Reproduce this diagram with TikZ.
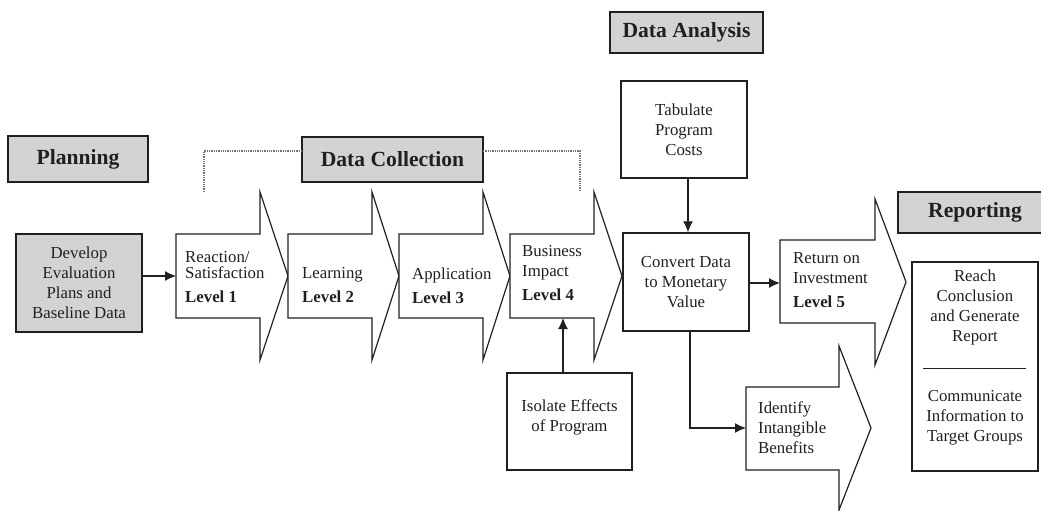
\documentclass[tikz,border=0pt]{standalone}
\usepackage{fontspec}
\setmainfont{Liberation Serif}
\usetikzlibrary{arrows.meta}
\definecolor{headgray}{RGB}{211,211,211}
\definecolor{ink}{RGB}{35,31,32}
\tikzset{box/.style={draw=ink,line width=1.4pt,align=center,inner sep=0pt,text=ink,
  font=\fontsize{16.8}{20}\selectfont},
 headbox/.style={box,fill=headgray,font=\fontsize{21.6}{26}\selectfont\bfseries},
 stage/.style={draw=ink,line width=1.2pt,fill=white},
 stagetext/.style={anchor=west,align=left,inner sep=0pt,text=ink,
  font=\fontsize{16.8}{20}\selectfont},
 flow/.style={-{Latex[length=11pt,width=10pt]},line width=1.2pt,draw=ink},
 bracket/.style={densely dotted,line width=1.3pt,draw=black!55}}

\begin{document}
\begin{tikzpicture}[x=1pt,y=-1pt]
\useasboundingbox (0,0) rectangle (1041,511);
% phase headings
\node[headbox,minimum width=140pt,minimum height=46pt] (plan) at (78,159) {Planning};
\node[headbox,minimum width=181pt,minimum height=45pt] (dcol) at (392.5,159.5) {Data Collection};
\node[headbox,minimum width=153pt,minimum height=41pt] (dana) at (686.5,32.5) {Data Analysis};
\node[headbox,minimum width=154pt,minimum height=41pt] (rep) at (975,212.5) {Reporting};
\draw[bracket] (204,192)--(204,151)--(302,151);
\draw[bracket] (483,151)--(580,151)--(580,191);
% levels
\draw[stage] (176,234)--(260,234)--(260,192)--(288,276)--(260,360)--(260,318)--(176,318)--cycle;
\draw[stage] (288,234)--(372,234)--(372,192)--(399,276)--(372,360)--(372,318)--(288,318)--cycle;
\draw[stage] (399,234)--(483,234)--(483,192)--(510,276)--(483,360)--(483,318)--(399,318)--cycle;
\draw[stage] (510,234)--(594,234)--(594,192)--(622,276)--(594,360)--(594,318)--(510,318)--cycle;
\draw[stage] (780,240)--(875,240)--(875,199)--(906,282)--(875,365)--(875,323)--(780,323)--cycle;
\draw[stage] (746,387)--(839,387)--(839,346)--(871,428)--(839,510)--(839,470)--(746,470)--cycle;
\coordinate (s1in) at (176,276);
\coordinate (s4low) at (563,318);
\coordinate (roiin) at (780,283);
\coordinate (intin) at (746,428);
\node[stagetext] (l1) at (185,277) {Reaction/\\[-4pt]Satisfaction\\[4pt]\textbf{Level 1}};
\node[stagetext] (l2) at (302,285) {Learning\\[4pt]\textbf{Level 2}};
\node[stagetext] (l3) at (412,286) {Application\\[4pt]\textbf{Level 3}};
\node[stagetext] (l4) at (522,273) {Business\\Impact\\[4pt]\textbf{Level 4}};
\node[stagetext] (l5) at (793,280) {Return on\\Investment\\[4pt]\textbf{Level 5}};
\node[stagetext] (ib) at (758,428) {Identify\\Intangible\\Benefits};
% process boxes
\node[box,fill=headgray,minimum width=126pt,minimum height=98pt] (dev) at (79,283)
 {Develop\\Evaluation\\Plans and\\Baseline Data};
\node[box,minimum width=126pt,minimum height=97pt] (tab) at (684,129.5) {Tabulate\\Program\\Costs};
\node[box,minimum width=126pt,minimum height=98pt] (conv) at (686,282)
 {Convert Data\\to Monetary\\Value};
\node[box,minimum width=125pt,minimum height=97pt,text depth=12pt] (isol) at (569.5,421.5)
 {Isolate Effects\\of Program};
\node[box,minimum width=126pt,minimum height=209pt] (reach) at (975,366.5) {};
\node[stagetext,anchor=center,align=center] (rtop) at (975,307.5)
 {Reach\\Conclusion\\and Generate\\Report};
\node[stagetext,anchor=center,align=center] (rbot) at (975,418)
 {Communicate\\Information to\\Target Groups};
\draw[line width=1pt,draw=ink] (923,368)--(1026,368);
% connectors
\draw[flow] (dev.east |- s1in)--(s1in);
\draw[flow] (isol.north -| s4low)--(s4low);
\draw[flow] (tab.south -| 688,0)--(conv.north -| 688,0);
\draw[flow] (conv.east |- roiin)--(roiin);
\draw[flow] (conv.south -| 690,0) |- (intin);
\end{tikzpicture}
\end{document}
